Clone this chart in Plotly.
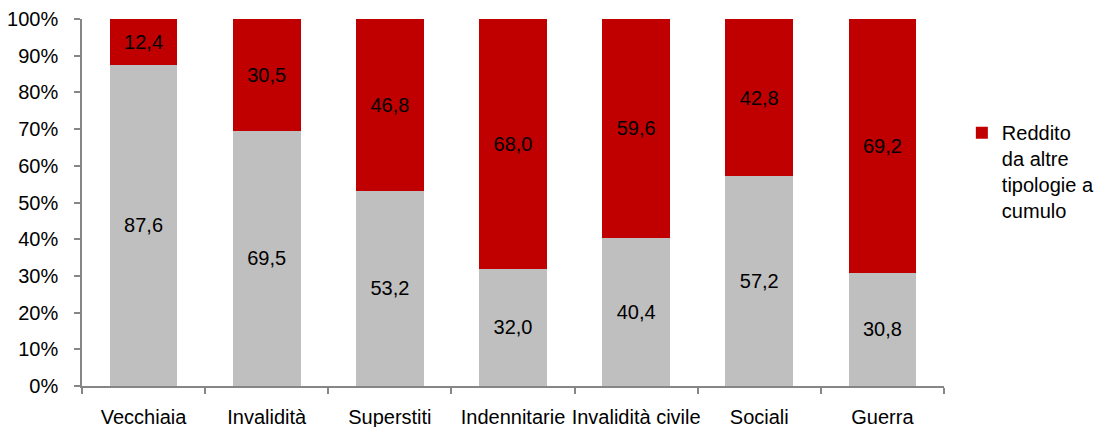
import plotly.graph_objects as go

categories = ["Vecchiaia", "Invalidità", "Superstiti", "Indennitarie",
              "Invalidità civile", "Sociali", "Guerra"]
grey_values = [87.6, 69.5, 53.2, 32.0, 40.4, 57.2, 30.8]
red_values = [12.4, 30.5, 46.8, 68.0, 59.6, 42.8, 69.2]
red_name = "Reddito<br>da altre<br>tipologie a<br>cumulo"
y_ticks = [0, 10, 20, 30, 40, 50, 60, 70, 80, 90, 100]

FONT = "Liberation Sans Narrow, Arial Narrow, Liberation Sans, Arial, sans-serif"
FS = 20


def fmt(v):
    return f"{v:.1f}".replace(".", ",")


fig = go.Figure()
fig.add_trace(go.Bar(
    x=categories, y=grey_values, name="Reddito da sola pensione",
    marker=dict(color="#BFBFBF", line=dict(width=0)),
    text=[fmt(v) for v in grey_values], textposition="inside",
    insidetextanchor="middle", textangle=0,
    textfont=dict(color="#000000", size=FS, family=FONT),
    showlegend=False, hoverinfo="skip",
))
fig.add_trace(go.Bar(
    x=categories, y=red_values, name=red_name,
    marker=dict(color="#C00000", line=dict(width=0)),
    text=[fmt(v) for v in red_values], textposition="inside",
    insidetextanchor="middle", textangle=0,
    textfont=dict(color="#000000", size=FS, family=FONT),
    showlegend=True, hoverinfo="skip",
))

fig.update_layout(
    barmode="stack",
    bargap=0.45,
    width=1098, height=427,
    margin=dict(l=82, r=154, t=19, b=41, pad=0, autoexpand=False),
    paper_bgcolor="white", plot_bgcolor="white",
    font=dict(family=FONT, size=FS, color="#000000"),
    uniformtext=dict(minsize=FS, mode="show"),
    legend=dict(x=0.876, y=0.735, xref="container", yref="container",
                xanchor="left", yanchor="top", valign="top",
                font=dict(size=FS, family=FONT, color="#000000"),
                bgcolor="rgba(0,0,0,0)", itemsizing="constant",
                tracegroupgap=0),
    xaxis=dict(
        showline=True, linecolor="#868686", linewidth=1.5,
        ticks="outside", ticklen=6, tickcolor="#868686", tickwidth=1.5,
        tickson="boundaries", tickangle=0, showgrid=False,
        automargin=False, ticklabelstandoff=12,
        tickfont=dict(size=FS, family=FONT, color="#000000"),
        range=[-0.5, 6.5],
    ),
    yaxis=dict(
        range=[0, 100], tickvals=y_ticks,
        ticktext=[f"{v}%" for v in y_ticks],
        showline=True, linecolor="#868686", linewidth=1.5,
        ticks="outside", ticklen=6, tickcolor="#868686", tickwidth=1.5,
        showgrid=False, zeroline=False, automargin=False,
        ticklabelstandoff=12,
        tickfont=dict(size=FS, family=FONT, color="#000000"),
    ),
)

fig.write_html("out.html")
